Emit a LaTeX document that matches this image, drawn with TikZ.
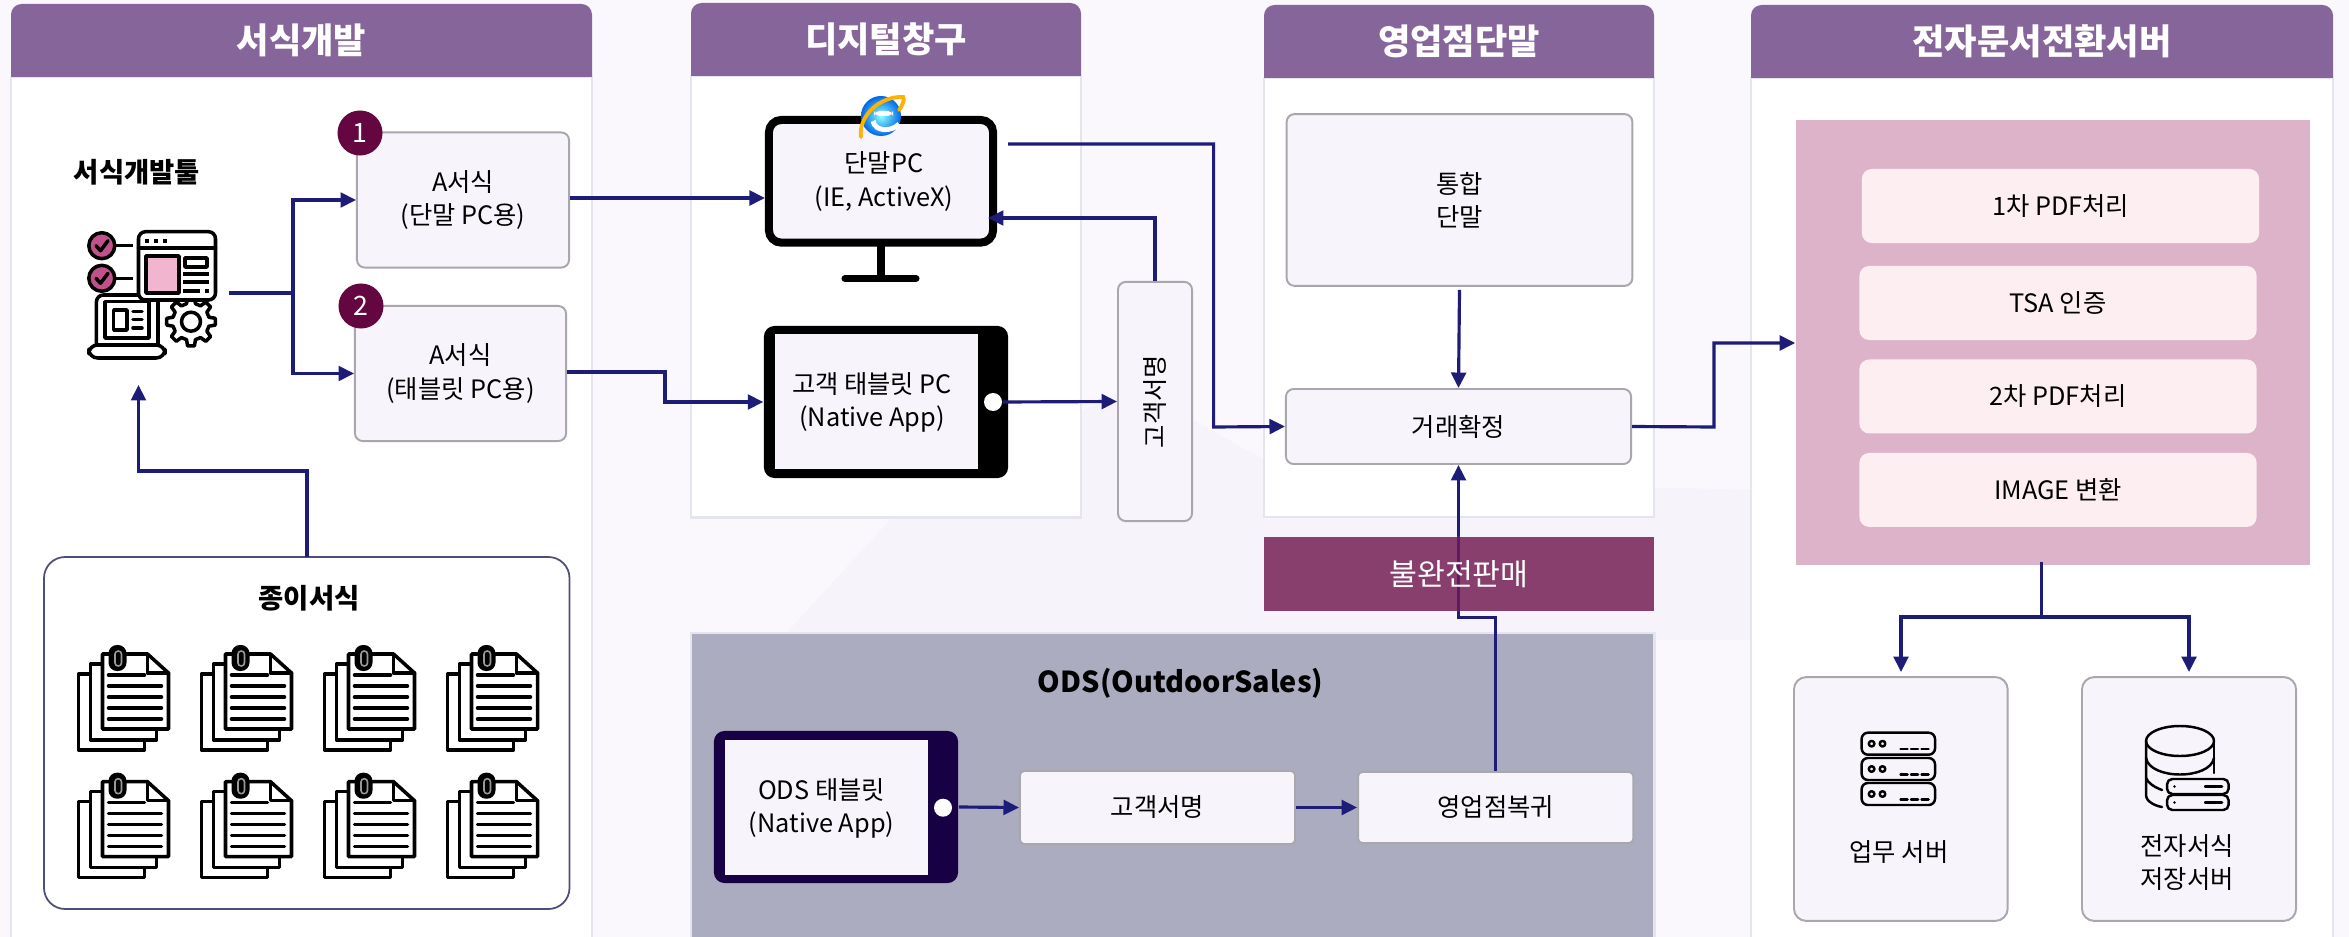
\documentclass[tikz,border=0pt]{standalone}
\usepackage{fontspec}
\setmainfont{Noto Sans CJK KR}
\usetikzlibrary{arrows.meta,calc,positioning}
\definecolor{pagebg}{HTML}{FAF8FD}
\definecolor{pagebgb}{HTML}{F7F3FB}
\definecolor{headfill}{HTML}{86659B}
\definecolor{panelline}{HTML}{E5E5F0}
\definecolor{boxfill}{HTML}{F7F5FB}
\definecolor{boxline}{HTML}{A9A7AB}
\definecolor{navy}{HTML}{1D1D78}
\definecolor{badgefill}{HTML}{64063F}
\definecolor{maroon}{HTML}{883F6E}
\definecolor{maroonline}{HTML}{5C1B63}
\definecolor{odsfill}{HTML}{ACACC1}
\definecolor{odsdark}{HTML}{170043}
\definecolor{pinkfill}{HTML}{DDB3CA}
\definecolor{stepfill}{HTML}{FDEEF2}
\definecolor{iconpink}{HTML}{F2B5D0}
\definecolor{iconcheck}{HTML}{C2508A}
\newcommand{\bodyfont}{\fontsize{7.2}{9.4}\selectfont}
\newcommand{\colpanel}[7]{
	\draw[panelbody] (#2,#5) rectangle (#3,#6);
	\fill[headfill] (#2,#5) [rounded corners=3pt] -- (#2,#4) -- (#3,#4) [sharp corners] -- (#3,#5) -- cycle;
	\node[headtext] (#1) at ($(#2,#4)!0.5!(#3,#5)$) {#7};
}
\tikzset{
	every node/.style={font=\bodyfont, align=center, inner sep=0pt},
	panelbody/.style={draw=panelline, line width=0.7pt, fill=white},
	headtext/.style={font=\fontsize{10}{12}\selectfont\bfseries, text=white},
	boldtext/.style={font=\fontsize{7.8}{10}\selectfont\bfseries},
	formbox/.style={draw=boxline, line width=0.55pt, fill=boxfill, rounded corners=2.2pt},
	srvbox/.style={formbox, rounded corners=3.5pt},
	stepbox/.style={fill=stepfill, rounded corners=2.8pt, minimum width=3.97cm, minimum height=0.74cm},
	badge/.style={circle, fill=badgefill, text=white, minimum size=0.45cm, font=\fontsize{7.6}{9}\selectfont},
	flow/.style={draw=navy, line width=0.9pt, -{Triangle[length=4.4pt,width=4.2pt]}},
	plainflow/.style={draw=navy, line width=0.9pt},
	icon/.style={draw=black, line width=1pt, line join=round, line cap=round},
	thinicon/.style={draw=black, line width=0.7pt, line join=round, line cap=round},
	docicon/.pic={
		\draw[icon, fill=white] (0,29) rectangle (66,105);
		\draw[icon, fill=white] (12,19) rectangle (78,95);
		\draw[icon, fill=white] (24,9) -- (69,9) -- (90,28) -- (90,84) -- (24,84) -- cycle;
		\draw[icon] (69,9) -- (69,28) -- (90,28);
		\draw[icon] (30,30) -- (66,30);
		\foreach \y in {41,52,63,74} {
			\draw[icon] (30,\y) -- (83,\y);
		}
		\fill[black, rounded corners=2.4pt] (30,0) rectangle (48,26);
		\draw[gray!80, line width=0.45pt, rounded corners=0.9pt] (36.5,6) rectangle (43,21);
	}
}
\begin{document}
\begin{tikzpicture}[x=0.01cm, y=-0.01cm]
	\useasboundingbox (0,0) rectangle (2349,937);
	\fill[pagebg] (0,0) rectangle (2349,937);
	\fill[pagebgb] (780,640) -- (890,520) -- (1130,385) -- (1300,480) -- (1760,490) -- (1760,640) -- cycle;

	\colpanel{forms}{11}{592}{4}{77}{945}{서식개발}
	\colpanel{window}{691}{1081}{3}{76}{517.5}{디지털창구}
	\colpanel{branch}{1264}{1654}{5}{78}{517}{영업점단말}
	\colpanel{server}{1751}{2333}{5}{78}{945}{전자문서전환서버}

	\node[boldtext] (tooltitle) at (137,172) {서식개발툴};
	\node[formbox, minimum width=2.12cm, minimum height=1.35cm] (form1) at (463,200) {A서식\\(단말 PC용)};
	\node[formbox, minimum width=2.11cm, minimum height=1.35cm] (form2) at (460.5,373.5) {A서식\\(태블릿 PC용)};
	\node[badge] (badge1) at (360,133) {1};
	\node[badge] (badge2) at (361,306) {2};
	\draw[navy!50!gray, line width=0.5pt, rounded corners=6pt] (44,557) rectangle (569.5,909);
	\node[boldtext] (papertitle) at (309,598) {종이서식};
	\coordinate (papertop) at (307,557);
	\foreach \i in {0,1,2,3} {
		\foreach \j in {0,1} {
			\pic at ({78.5+123*\i},{645+127.7*\j}) {docicon};
		}
	}

	% tool icon
	\draw[icon, fill=white, rounded corners=2pt] (96.4,345) -- (96.4,295) -- (158,295) -- (158,345);
	\draw[icon] (105,301.7) rectangle (149,338);
	\draw[icon] (113.7,310) rectangle (127,330);
	\foreach \y in {311.7,319.3,328} {
		\draw[icon] (133,\y) -- (142,\y);
	}
	\draw[icon, fill=white, rounded corners=2.5pt] (88.8,345) -- (165,345) -- (165,358) -- (88.8,358) -- cycle;
	\begin{scope}[shift={(191,321.7)}]
		\draw[icon, fill=white] (-14:18.5) \foreach \a in {0,45,...,315} {-- (\a-14:18.5) -- (\a-8:24.5) -- (\a+8:24.5) -- (\a+14:18.5)} -- cycle;
		\draw[icon] (0,0) circle (9.5);
	\end{scope}
	\draw[icon, fill=white, rounded corners=2pt] (138.5,231.7) rectangle (215.5,300);
	\draw[icon] (138.5,248) -- (215.5,248);
	\foreach \x in {147,156,164.6} {
		\fill[black] (\x-2,239) rectangle (\x+2,243);
	}
	\draw[icon, fill=iconpink] (146,256) rectangle (179,293);
	\draw[icon] (185,258) rectangle (207,267);
	\foreach \y in {274,282} {
		\draw[icon, line cap=butt] (183,\y) -- (208.6,\y);
	}
	\draw[icon, line cap=butt] (183,291) -- (200,291);
	\fill[black] (205,289) rectangle (208.6,293);
	\foreach \y in {245.7,278.3} {
		\draw[icon, line cap=butt] (115,\y) -- (133,\y);
		\draw[icon, fill=iconcheck] (101.8,\y) circle (13);
		\draw[icon] (96,\y) -- (100.5,\y+5) -- (108,\y-5);
	}
	\coordinate (toolout) at (229,293);
	\coordinate (toolin) at (138.5,385);
	\coordinate (toolsplit) at (293,293);

	\draw[plainflow] (toolout) -- (toolsplit);
	\draw[flow] (toolsplit) |- (form1.west);
	\draw[flow] (toolsplit) |- (form2.west);
	\draw[flow] (papertop) |- ($(toolin)+(0,86)$) -- (toolin);

	% monitor
	\draw[black, line width=2.5pt] (881,246) -- (881,278);
	\draw[black, line width=2pt, line cap=round] (845,278.5) -- (916,278.5);
	\node[draw=black, line width=2.28pt, fill=boxfill, rounded corners=3.5pt, minimum width=2.24cm, minimum height=1.226cm] (pc) at (881,181.3) {};
	\node (pctext) at (884,181.5) {단말PC\\(IE, ActiveX)};
	\shade[inner color=cyan!45!white, outer color=blue!55!cyan!90!black] (881,116) circle (20);
	\fill[white, rounded corners=1.5pt] (874,111) rectangle (893,116);
	\draw[white, line width=1.4pt] (873,121) .. controls (875,132) and (892,132) .. (899,124);
	\draw[orange!60!yellow, line width=1.1pt, line cap=round] (861,137) .. controls (858,118) and (878,96) .. (903,97) .. controls (905,100) and (902,106) .. (899,110);
	\coordinate (pcin) at (pc.west |- 0,198);
	\coordinate (pcout) at (1008,144);
	\coordinate (pcback) at (988,218);

	% tablet
	\node[fill=black, rounded corners=3pt, minimum width=2.44cm, minimum height=1.52cm] (tablet) at (886,402) {};
	\node[fill=boxfill, minimum width=2.03cm, minimum height=1.35cm] (tabscreen) at (876.5,401.5) {};
	\node (tabtext) at (872,402.5) {고객 태블릿 PC\\(Native App)};
	\node[circle, fill=white, minimum size=0.18cm] (tabbtn) at (993,402) {};
	\node[formbox, minimum width=0.74cm, minimum height=2.39cm] (sign) at (1155,401.5) {};
	\node[rotate=90] (signtext) at (sign) {고객서명};

	\draw[flow] (form1.east |- pcin) -- (pcin);
	\draw[flow] ($(form2.east)+(0,-1.5)$) -| (665,402) -- (tablet.west);
	\draw[flow] (tabbtn.east) -- (sign.west);
	\draw[flow] (sign.north) |- (pcback);

	% branch
	\node[formbox, minimum width=3.455cm, minimum height=1.716cm] (terminal) at (1459.5,200) {통합\\단말};
	\node[formbox, minimum width=3.45cm, minimum height=0.75cm] (deal) at (1458.5,426.5) {거래확정};
	\draw[flow] (terminal.south) ++(0,3) -- (deal.north);
	\draw[flow] (pcout) -| (1213.6,427) -- (deal.west);

	% hold bar and ODS panel
	\node[fill=maroon, minimum width=3.9cm, minimum height=0.74cm] (hold) at (1459,574) {};
	\draw[draw=panelline, line width=0.7pt, fill=odsfill] (691,633) rectangle (1654.5,945);
	\node[boldtext, font=\fontsize{8.2}{10}\selectfont\bfseries] (odstitle) at (1180.6,683) {ODS(OutdoorSales)};
	\node[fill=odsdark, rounded corners=3pt, minimum width=2.44cm, minimum height=1.52cm] (odstablet) at (836,807) {};
	\node[fill=boxfill, minimum width=2.03cm, minimum height=1.35cm] (odsscreen) at (826.5,807.5) {};
	\node (odstext) at (821.6,808) {ODS 태블릿\\(Native App)};
	\node[circle, fill=white, minimum size=0.18cm] (odsbtn) at (943,807.7) {};
	\node[formbox, rounded corners=1.2pt, minimum width=2.75cm, minimum height=0.73cm] (odssign) at (1157.5,807.5) {고객서명};
	\node[formbox, rounded corners=1.2pt, minimum width=2.75cm, minimum height=0.71cm, right=0.61cm of odssign] (odsback) {영업점복귀};
	\draw[flow] (odstablet.east) -- (odssign.west);
	\draw[flow] (odssign.east) -- (odsback.west);
	\coordinate (backturn) at (odsback.north |- 0,617.7);
	\draw[flow] (odsback.north) -- (backturn) -| (deal.south);
	\draw[maroonline, line width=0.9pt] (deal.south |- hold.north) -- (deal.south |- hold.south);
	\node[text=white, font=\fontsize{8.6}{10}\selectfont] (holdtext) at (hold) {불완전판매};

	% server
	\node[fill=pinkfill, minimum width=5.14cm, minimum height=4.446cm] (pdfarea) at (2053,342.3) {};
	\node[stepbox] (pdf1) at (2060.5,206) {1차 PDF처리};
	\node[stepbox] (tsa) at (2058,303) {TSA 인증};
	\node[stepbox, below=0.18cm of tsa] (pdf2) {2차 PDF처리};
	\node[stepbox, below=0.18cm of pdf2] (imgconv) {IMAGE 변환};
	\draw[flow] (deal.east) -- (1714,427) |- (pdfarea.west |- 0,343);
	\node[srvbox, minimum width=2.136cm, minimum height=2.437cm] (biz) at (1900.8,799) {};
	\node[srvbox, minimum width=2.14cm, minimum height=2.437cm] (store) at (2189,799) {};
	\coordinate (split) at (2041.7,617);
	\draw[plainflow] (pdfarea.south -| split) ++(0,-3) -- (split);
	\draw[flow] (split) -| (1901,672);
	\draw[flow] (split) -| (2189,672);
	\node (biztext) at (1899,851.7) {업무 서버};
	\node (storetext) at (2187,862.5) {전자서식\\저장서버};

	% server icons
	\foreach \y in {732.7,758,783} {
		\draw[thinicon, rounded corners=1.8pt] (1861.6,\y) rectangle (1935,\y+22);
		\draw[thinicon] (1871.6,\y+11) circle (2.8);
		\draw[thinicon] (1882.5,\y+11) circle (2.8);
		\foreach \x in {1900.5,1911,1921.5} {
			\draw[thinicon] (\x,\y+16.5) -- (\x+7,\y+16.5);
		}
	}
	\draw[thinicon] (2146,741) -- (2146,795) .. controls (2146,802) and (2156,806) .. (2162,807);
	\draw[thinicon] (2214,741) -- (2214,773);
	\draw[thinicon] (2180,741) ellipse (34 and 15);
	\draw[thinicon] (2146,758) .. controls (2150,780) and (2210,780) .. (2214,758);
	\draw[thinicon] (2146,778) .. controls (2148,783) and (2154,787) .. (2162,790);
	\foreach \y in {779,795} {
		\draw[thinicon, fill=boxfill, rounded corners=1.5pt] (2167,\y) rectangle (2228.6,\y+15);
		\fill[black] (2174.5,\y+7.5) circle (1.4);
		\draw[thinicon] (2205,\y+7.5) -- (2222,\y+7.5);
	}
\end{tikzpicture}
\end{document}
